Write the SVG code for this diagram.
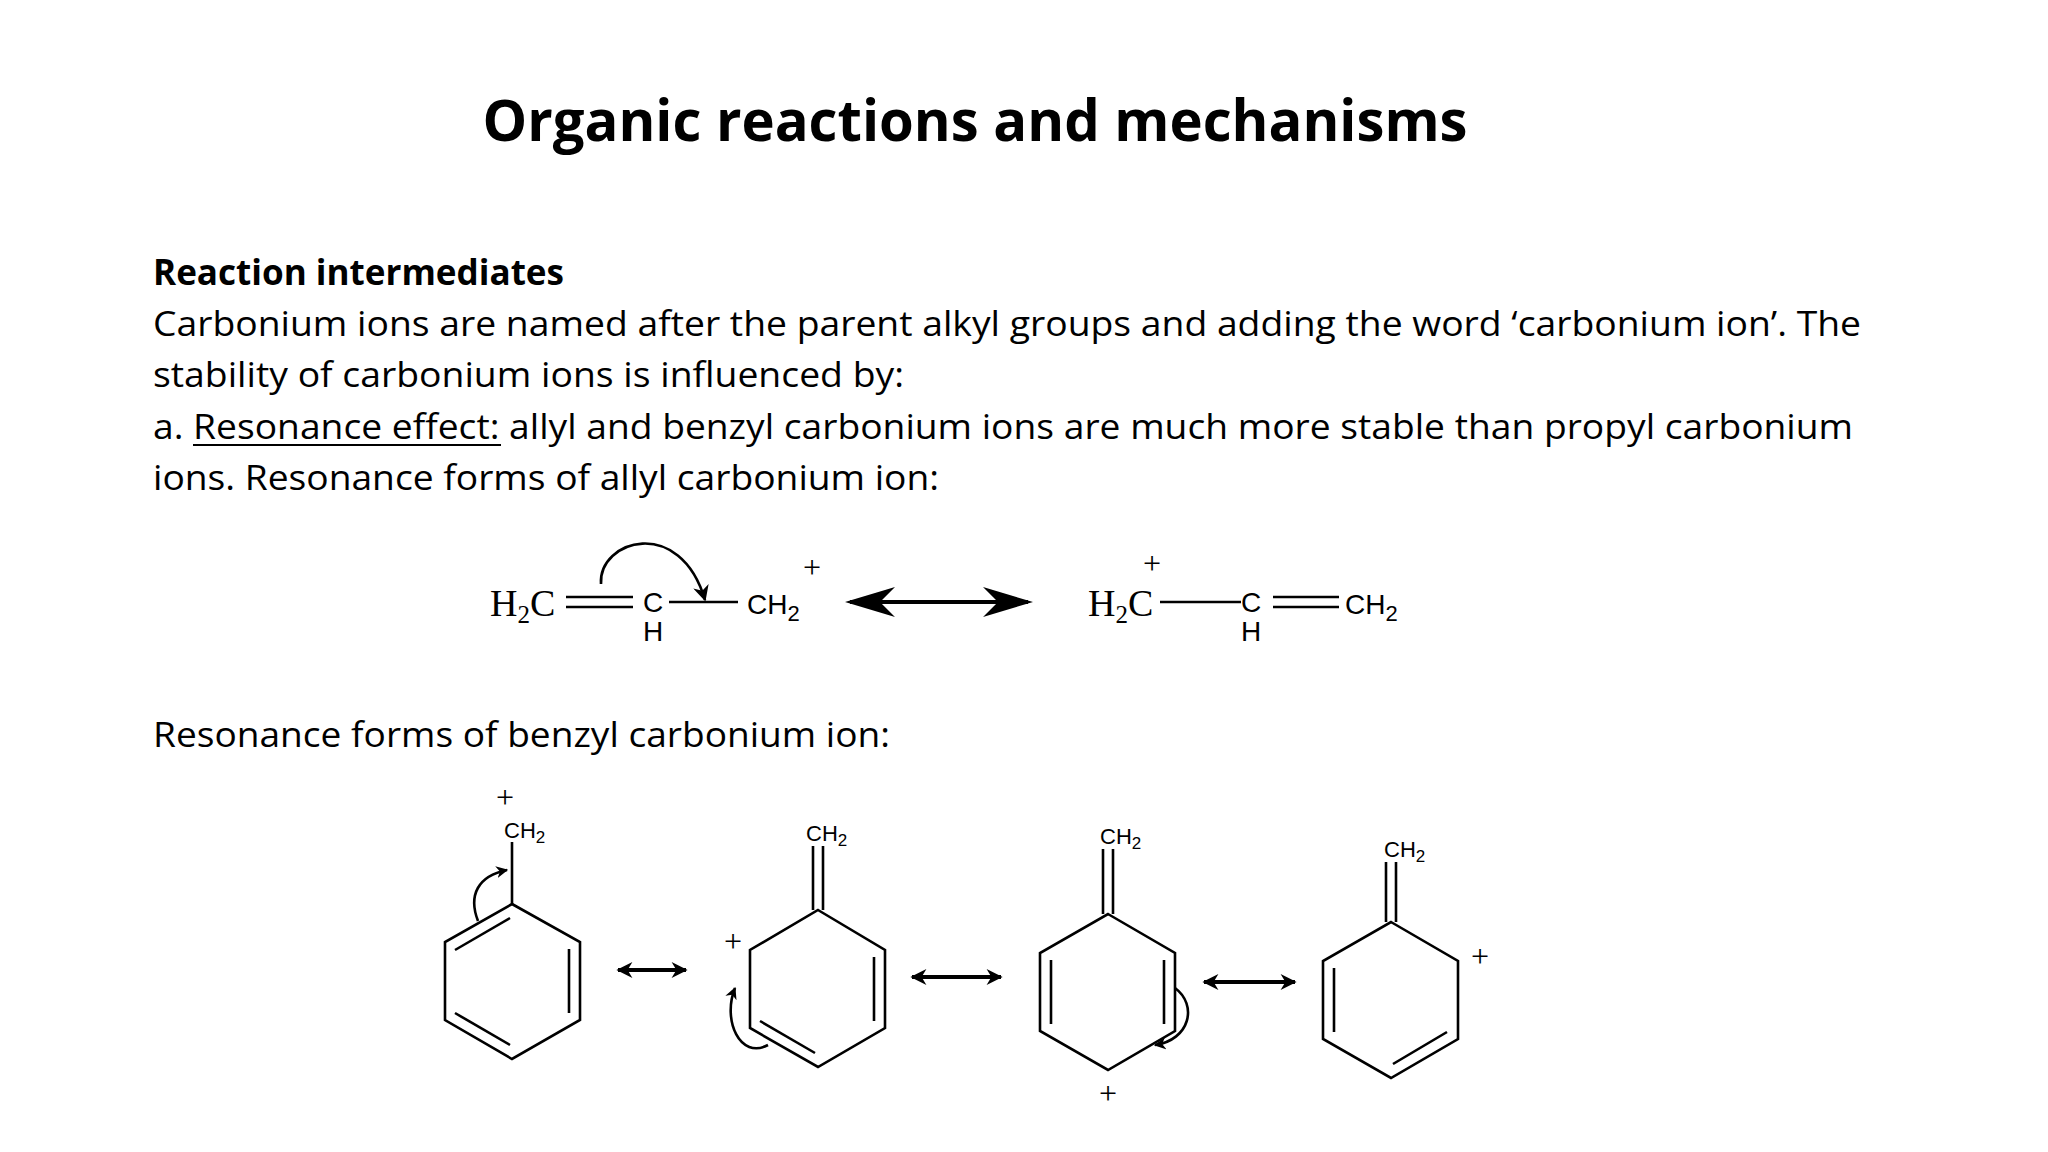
<svg xmlns="http://www.w3.org/2000/svg" width="2048" height="1152" viewBox="0 0 2048 1152">
<defs>
<style>
.t{font-family:"Open Sans","Liberation Sans",sans-serif;font-size:35px;fill:#000}
.b{font-weight:bold}
.s{font-family:"Liberation Serif",serif;font-size:38px}
.a{font-family:"Liberation Sans",sans-serif;font-size:28px}
.c{font-family:"Liberation Sans",sans-serif;font-size:22px}
.p{font-family:"Liberation Serif",serif;font-size:32px}
.ln{stroke:#000;stroke-width:2.6;fill:none}
.th{stroke:#000;stroke-width:4;fill:none}
</style>
<marker id="ah" viewBox="0 0 10 10" refX="9" refY="5" markerWidth="12" markerHeight="12" orient="auto" markerUnits="userSpaceOnUse"><path d="M0,0L10,5L0,10L3,5z" fill="#000"/></marker>
<marker id="sh" viewBox="0 0 10 10" refX="9" refY="5" markerWidth="18" markerHeight="16" orient="auto-start-reverse" markerUnits="userSpaceOnUse"><path d="M0,0L10,5L0,10L3,5z" fill="#000"/></marker>
<marker id="bh" viewBox="0 0 10 10" refX="9" refY="5" markerWidth="50" markerHeight="30" orient="auto-start-reverse" markerUnits="userSpaceOnUse" preserveAspectRatio="none"><path d="M0,0L10,5L0,10L3,5z" fill="#000"/></marker>
</defs>
<rect width="2048" height="1152" fill="#fff"/>
<g id="text">
<text class="t b" x="975" y="141" text-anchor="middle" style="font-size:58px" textLength="985" lengthAdjust="spacingAndGlyphs">Organic reactions and mechanisms</text>
<text class="t b" x="153" y="285" textLength="411" lengthAdjust="spacingAndGlyphs">Reaction intermediates</text>
<text class="t" x="153" y="336" textLength="1708" lengthAdjust="spacingAndGlyphs">Carbonium ions are named after the parent alkyl groups and adding the word ‘carbonium ion’. The</text>
<text class="t" x="153" y="387" textLength="751" lengthAdjust="spacingAndGlyphs">stability of carbonium ions is influenced by:</text>
<text class="t" x="153" y="439" textLength="1700" lengthAdjust="spacingAndGlyphs">a. Resonance effect: allyl and benzyl carbonium ions are much more stable than propyl carbonium</text>
<line x1="193" y1="445" x2="501" y2="445" stroke="#000" stroke-width="2"/>
<text class="t" x="153" y="490" textLength="786" lengthAdjust="spacingAndGlyphs">ions. Resonance forms of allyl carbonium ion:</text>
<text class="t" x="153" y="747" textLength="737" lengthAdjust="spacingAndGlyphs">Resonance forms of benzyl carbonium ion:</text>
</g>
<g id="allyl1">
<text class="s" x="490" y="616">H<tspan font-size="25" dy="7">2</tspan><tspan dy="-7">C</tspan></text>
<line class="ln" x1="566" y1="597" x2="633" y2="597"/><line class="ln" x1="566" y1="607" x2="633" y2="607"/>
<text class="a" x="653" y="612" text-anchor="middle">C</text>
<text class="a" x="653" y="641" text-anchor="middle">H</text>
<line class="ln" x1="669" y1="602" x2="738" y2="602"/>
<text class="a" x="747" y="614">CH<tspan font-size="22" dy="7">2</tspan></text>
<text class="p" x="812" y="578" text-anchor="middle">+</text>
<path class="ln" d="M601,584 C598,540 680,515 705,600" marker-end="url(#sh)"/>
</g>
<g id="allyl2">
<text class="s" x="1088" y="616">H<tspan font-size="25" dy="7">2</tspan><tspan dy="-7">C</tspan></text>
<text class="p" x="1152" y="574" text-anchor="middle">+</text>
<line class="ln" x1="1160" y1="602" x2="1241" y2="602"/>
<text class="a" x="1251" y="612" text-anchor="middle">C</text>
<text class="a" x="1251" y="641" text-anchor="middle">H</text>
<line class="ln" x1="1273" y1="597" x2="1339" y2="597"/><line class="ln" x1="1273" y1="607" x2="1339" y2="607"/>
<text class="a" x="1345" y="614">CH<tspan font-size="22" dy="7">2</tspan></text>
</g>
<g id="ring1">
<path class="ln" d="M512,904L580,942L580,1020L512,1059L445,1020L445,942Z"/>
<line class="ln" x1="455" y1="950" x2="510" y2="918"/>
<line class="ln" x1="569" y1="949" x2="569" y2="1013"/>
<line class="ln" x1="455" y1="1013" x2="510" y2="1045"/>
<line class="ln" x1="512" y1="904" x2="512" y2="842"/>
<text class="c" x="504" y="838">CH<tspan font-size="17" dy="5">2</tspan></text>
<text class="p" x="505" y="808" text-anchor="middle">+</text>
<path class="ln" d="M478,921 C468,895 478,876 507,870" marker-end="url(#ah)"/>
</g>
<g id="ring2">
<path class="ln" d="M818,910L885,950L885,1028L818,1067L750,1028L750,950Z"/>
<line class="ln" x1="874" y1="957" x2="874" y2="1021"/>
<line class="ln" x1="760" y1="1021" x2="815" y2="1053"/>
<line class="ln" x1="813" y1="910" x2="813" y2="846"/><line class="ln" x1="823" y1="910" x2="823" y2="846"/>
<text class="c" x="806" y="841">CH<tspan font-size="17" dy="5">2</tspan></text>
<text class="p" x="733" y="952" text-anchor="middle">+</text>
<path class="ln" d="M768,1045 C740,1060 722,1020 735,988" marker-end="url(#ah)"/>
</g>
<g id="ring3">
<path class="ln" d="M1108,914L1175,953L1175,1031L1108,1070L1040,1031L1040,953Z"/>
<line class="ln" x1="1051" y1="960" x2="1051" y2="1024"/>
<line class="ln" x1="1164" y1="960" x2="1164" y2="1024"/>
<line class="ln" x1="1103" y1="914" x2="1103" y2="849"/><line class="ln" x1="1113" y1="914" x2="1113" y2="849"/>
<text class="c" x="1100" y="844">CH<tspan font-size="17" dy="5">2</tspan></text>
<text class="p" x="1108" y="1104" text-anchor="middle">+</text>
<path class="ln" d="M1175,988 C1198,1005 1190,1040 1155,1045" marker-end="url(#ah)"/>
</g>
<g id="ring4">
<path class="ln" d="M1391,922L1458,961L1458,1039L1391,1078L1323,1039L1323,961Z"/>
<line class="ln" x1="1334" y1="968" x2="1334" y2="1032"/>
<line class="ln" x1="1447" y1="1032" x2="1393" y2="1064"/>
<line class="ln" x1="1386" y1="922" x2="1386" y2="862"/><line class="ln" x1="1396" y1="922" x2="1396" y2="862"/>
<text class="c" x="1384" y="857">CH<tspan font-size="17" dy="5">2</tspan></text>
<text class="p" x="1480" y="967" text-anchor="middle">+</text>
</g>
<g id="connectors">
<line class="th" x1="850" y1="602" x2="1028" y2="602" marker-start="url(#bh)" marker-end="url(#bh)"/>
<line class="th" x1="618" y1="970" x2="686" y2="970" marker-start="url(#sh)" marker-end="url(#sh)"/>
<line class="th" x1="912" y1="977" x2="1001" y2="977" marker-start="url(#sh)" marker-end="url(#sh)"/>
<line class="th" x1="1204" y1="982" x2="1295" y2="982" marker-start="url(#sh)" marker-end="url(#sh)"/>
</g>
</svg>
